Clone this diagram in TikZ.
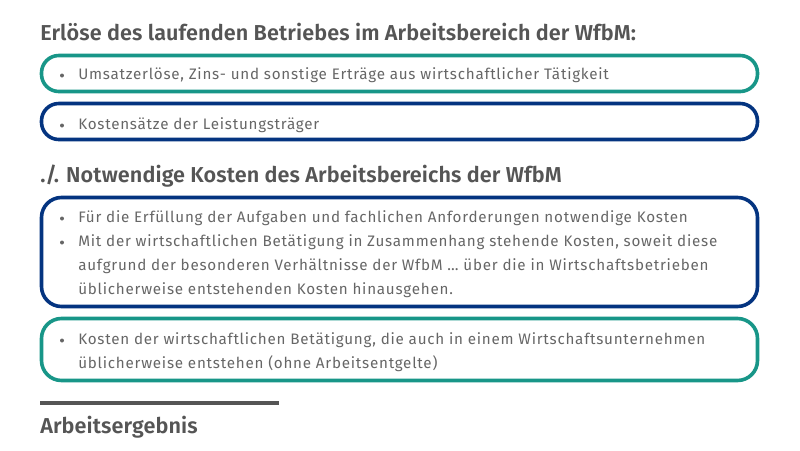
\documentclass[tikz,border=0pt]{standalone}
\usepackage{fontspec}
\setmainfont{Fira Sans}
\newfontfamily\bodyfont{Fira Sans}[LetterSpace=5]
\newfontfamily\headfont{Fira Sans SemiBold}[LetterSpace=0.5]
\definecolor{wfteal}{RGB}{24,150,136}
\definecolor{wfblue}{RGB}{4,52,128}
\definecolor{headgray}{RGB}{85,85,85}
\definecolor{textgray}{RGB}{102,102,102}
\tikzset{
  heading/.style={anchor=base west, inner sep=0pt, text=headgray,
    font=\headfont\fontsize{16.2}{18}\selectfont},
  itemline/.style={anchor=base west, inner sep=0pt, text=textgray,
    font=\bodyfont\fontsize{11.4}{13}\selectfont},
  dot/.style={circle, fill=textgray, inner sep=0pt, minimum size=3pt},
  frame/.style={draw=#1, line width=2.7pt, minimum width=537pt, inner sep=0pt},
}
\begin{document}
\begin{tikzpicture}[x=0.75pt,y=-0.75pt]
\useasboundingbox (0,0) rectangle (800,450);
% Erloese
\node[heading] at (40,40) (erloese) {Erlöse des laufenden Betriebes im Arbeitsbereich der WfbM:};
\node[frame=wfteal, minimum height=27pt, rounded corners=13pt] at (399.5,73.5) (umsatz) {};
\node[frame=wfblue, minimum height=27pt, rounded corners=13pt] at (399.5,121.5) (kostensatz) {};
\node[dot] at (62,75.5) (d1) {};
\node[itemline] at (78,79) (t1) {Umsatzerlöse, Zins- und sonstige Erträge aus wirtschaftlicher Tätigkeit};
\node[dot] at (62,125.5) (d2) {};
\node[itemline] at (78,129) (t2) {Kostensätze der Leistungsträger};
% Kosten
\node[heading] at (40,182) (kosten) {./. Notwendige Kosten des Arbeitsbereichs der WfbM};
\node[frame=wfblue, minimum height=81.75pt, rounded corners=15pt] at (399.5,252) (notwendig) {};
\node[frame=wfteal, minimum height=46.5pt, rounded corners=15pt] at (399.5,349.5) (wirtschaft) {};
\node[dot] at (62,218.5) (d3) {};
\node[itemline] at (78,222) (t3) {Für die Erfüllung der Aufgaben und fachlichen Anforderungen notwendige Kosten};
\node[dot] at (62,242.5) (d4) {};
\node[itemline] at (78,246) (t4) {Mit der wirtschaftlichen Betätigung in Zusammenhang stehende Kosten, soweit diese};
\node[itemline] at (78,270) (t5) {aufgrund der besonderen Verhältnisse der WfbM … über die in Wirtschaftsbetrieben};
\node[itemline] at (78,294) (t6) {üblicherweise entstehenden Kosten hinausgehen.};
\node[dot] at (62,340.5) (d5) {};
\node[itemline] at (78,344) (t7) {Kosten der wirtschaftlichen Betätigung, die auch in einem Wirtschaftsunternehmen};
\node[itemline] at (78,368) (t8) {üblicherweise entstehen (ohne Arbeitsentgelte)};
% Ergebnis
\coordinate (rulestart) at (40,403);
\coordinate (ruleend) at (279,403);
\draw[headgray, line width=3pt] (rulestart) -- (ruleend);
\node[heading] at (40,433) (ergebnis) {Arbeitsergebnis};
\end{tikzpicture}
\end{document}
